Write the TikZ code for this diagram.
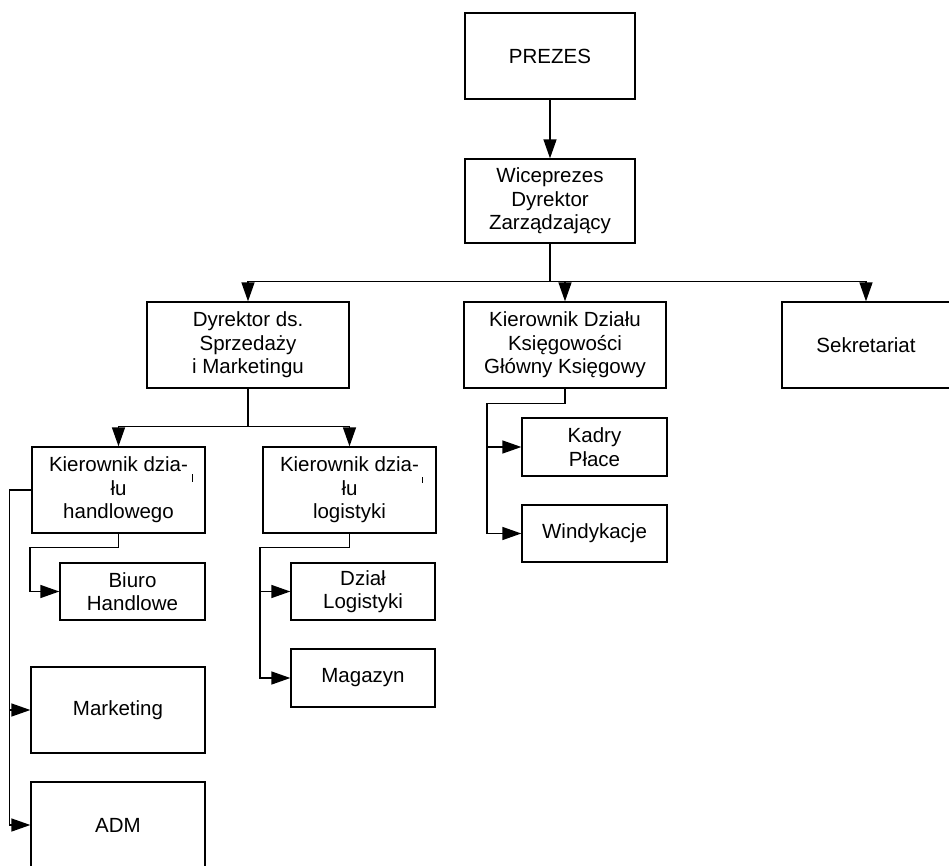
\documentclass[tikz,border=0pt]{standalone}
\usepackage{fontspec}
\setmainfont{Liberation Sans}
\usetikzlibrary{arrows.meta}
\begin{document}
\begin{tikzpicture}[x=1pt, y=-1pt,
  box/.style={draw, line width=1.3pt, inner sep=0pt, align=center,
    font=\fontsize{20.5}{23.5}\selectfont},
  link/.style={line width=1.4pt},
  arr/.style={link, -{Triangle[length=19pt, width=13pt]}}]
  \useasboundingbox (0,0) rectangle (949,866);
  \clip (0,0) rectangle (949,866);

  % management levels
  \node[box, minimum width=170pt, minimum height=86pt] (prezes) at (550,56) {PREZES};
  \node[box, minimum width=170pt, minimum height=84pt] (wice) at (550,201) {Wiceprezes\\Dyrektor\\Zarządzający};
  \node[box, minimum width=202pt, minimum height=86pt] (dyr) at (248,345) {Dyrektor ds.\\Sprzedaży\\i Marketingu};
  \node[box, minimum width=202pt, minimum height=86pt] (kd) at (565,345) {Kierownik Działu\\Księgowości\\Główny Księgowy};
  \node[box, minimum width=168pt, minimum height=86pt] (sek) at (866,345) {Sekretariat};

  % sales branch
  \node[box, minimum width=173pt, minimum height=86pt] (kh) at (118.5,490) {Kierownik dzia-\\łu\\handlowego};
  \node[box, minimum width=173pt, minimum height=86pt] (kl) at (349.5,490) {Kierownik dzia-\\łu\\logistyki};
  \node[box, minimum width=145pt, minimum height=57pt] (biuro) at (132.5,591.5) {Biuro\\Handlowe};
  \node[box, minimum width=144pt, minimum height=57pt] (dl) at (363,591.5) {Dział\\Logistyki};
  \node[box, minimum width=144pt, minimum height=58pt] (mag) at (363,678) {Magazyn};
  \node[box, minimum width=174pt, minimum height=86pt] (mkt) at (118,710) {Marketing};
  \node[box, minimum width=174pt, minimum height=86pt] (adm) at (118,825) {ADM};

  % accounting branch
  \node[box, minimum width=145pt, minimum height=58pt] (kadry) at (594.5,447) {Kadry\\Płace};
  \node[box, minimum width=145pt, minimum height=57pt] (wind) at (594.5,533.5) {Windykacje};

  % connectors
  \draw[arr] (prezes) -- (wice);
  \draw[arr] (wice.south) -- ++(0,38) -| (dyr.north);
  \draw[arr] (wice.south) -- ++(0,38) -| (kd.north);
  \draw[arr] (wice.south) -- ++(0,38) -| (sek.north);

  \draw[arr] (dyr.south) -- ++(0,38) -| (kh.north);
  \draw[arr] (dyr.south) -- ++(0,38) -| (kl.north);

  \draw[arr] (kh.south) -- ++(0,14) -- ++(-88.5,0) |- (biuro.west);
  \draw[arr] (kh.west) -- ++(-22,0) |- (mkt.west);
  \draw[arr] (kh.west) -- ++(-22,0) |- (adm.west);

  \draw[arr] (kl.south) -- ++(0,14) -- ++(-89.5,0) |- (dl.west);
  \draw[arr] (kl.south) -- ++(0,14) -- ++(-89.5,0) |- (mag.west);

  \draw[arr] (kd.south) -- ++(0,15) -- ++(-78,0) |- (kadry.west);
  \draw[arr] (kd.south) -- ++(0,15) -- ++(-78,0) |- (wind.west);

  % small stray marks beside the hyphenated titles
  \draw[line width=1pt] (kh.north east) ++(-13,28) -- ++(0,8);
  \draw[line width=1pt] (kl.north east) ++(-14,31) -- ++(0,6);
\end{tikzpicture}
\end{document}
